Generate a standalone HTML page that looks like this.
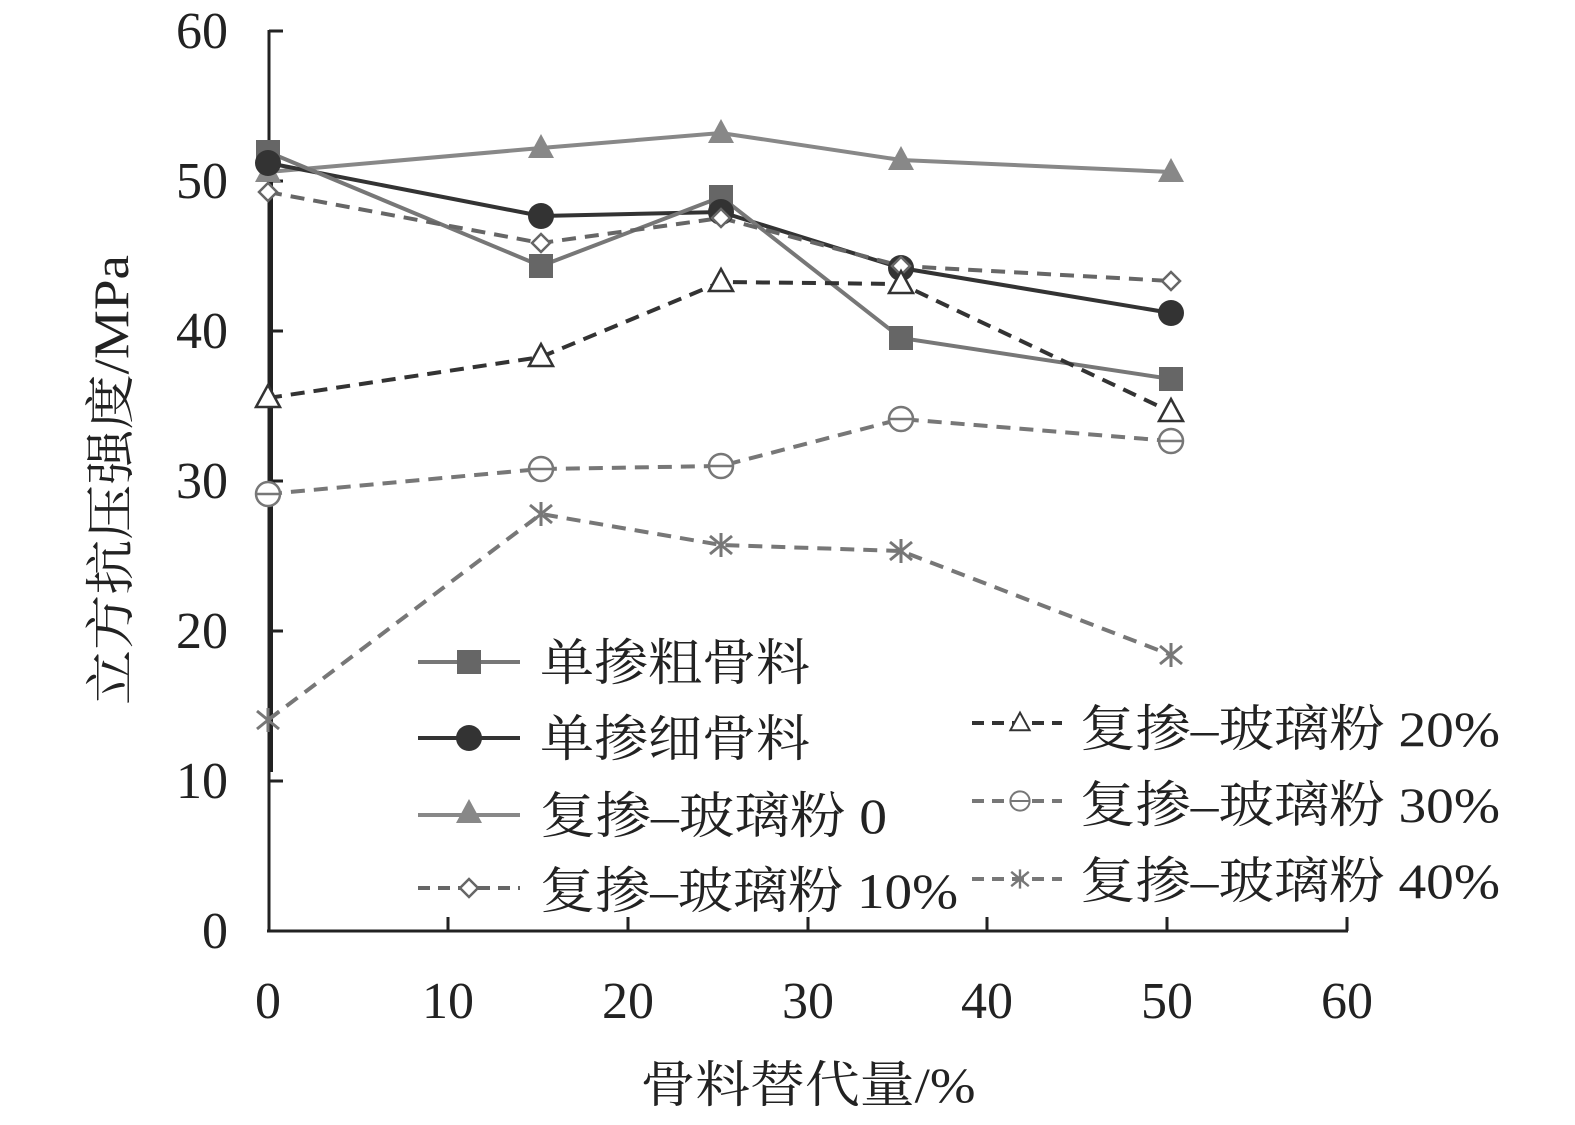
<!DOCTYPE html>
<html><head><meta charset="utf-8"><style>
html,body{margin:0;padding:0;background:#fff;}
svg{display:block;}
text{font-family:"Liberation Serif","Noto Serif CJK SC",serif;fill:#222;}
</style></head><body>
<svg width="1575" height="1125" viewBox="0 0 1575 1125" xmlns="http://www.w3.org/2000/svg">
<defs>
<g id="sq"><rect x="-12" y="-12" width="24" height="24" fill="#666"/></g>
<g id="ci"><circle r="13" fill="#333"/></g>
<g id="tf"><polygon points="0,-14 13,10 -13,10" fill="#888"/></g>
<g id="di"><polygon points="0,-9 9,0 0,9 -9,0" fill="#fff" stroke="#666" stroke-width="2.5"/></g>
<g id="to"><polygon points="0,-13 12,9 -12,9" fill="#fff" stroke="#333" stroke-width="2.5"/></g>
<g id="co"><circle r="12" fill="#fff" stroke="#777" stroke-width="2.5"/><line x1="-11" y1="0" x2="11" y2="0" stroke="#777" stroke-width="2.5"/></g>
<g id="st" stroke="#777" stroke-width="3"><line x1="-11" y1="-9" x2="11" y2="9"/><line x1="-11" y1="9" x2="11" y2="-9"/><line x1="0" y1="-12" x2="0" y2="12"/></g>
</defs>
<g stroke="#222" stroke-width="3" fill="none">
<line x1="269" y1="30" x2="269" y2="932"/>
<line x1="267" y1="931" x2="1348" y2="931"/>
<line x1="271" y1="150" x2="271" y2="772" stroke-width="4"/>
<line x1="269" y1="31" x2="283" y2="31"/>
<line x1="269" y1="181" x2="283" y2="181"/>
<line x1="269" y1="331" x2="283" y2="331"/>
<line x1="269" y1="481" x2="283" y2="481"/>
<line x1="269" y1="631" x2="283" y2="631"/>
<line x1="269" y1="781" x2="283" y2="781"/>
<line x1="448" y1="931" x2="448" y2="917"/>
<line x1="628" y1="931" x2="628" y2="917"/>
<line x1="808" y1="931" x2="808" y2="917"/>
<line x1="987" y1="931" x2="987" y2="917"/>
<line x1="1167" y1="931" x2="1167" y2="917"/>
<line x1="1347" y1="931" x2="1347" y2="917"/>
</g>
<g font-size="52" text-anchor="end">
<text x="228" y="48">60</text><text x="228" y="198">50</text><text x="228" y="348">40</text>
<text x="228" y="498">30</text><text x="228" y="648">20</text><text x="228" y="798">10</text>
<text x="228" y="948">0</text>
</g>
<g font-size="52" text-anchor="middle">
<text x="268" y="1018">0</text><text x="448" y="1018">10</text><text x="628" y="1018">20</text>
<text x="808" y="1018">30</text><text x="987" y="1018">40</text><text x="1167" y="1018">50</text>
<text x="1347" y="1018">60</text>
</g>
<text x="808" y="1102" font-size="50" text-anchor="middle" textLength="335" lengthAdjust="spacingAndGlyphs">骨料替代量/%</text>
<text transform="translate(128,480) rotate(-90)" font-size="50" text-anchor="middle" textLength="450" lengthAdjust="spacingAndGlyphs">立方抗压强度/MPa</text>
<g fill="none" stroke-width="4">
<polyline stroke="#888" points="268,172 541,148 721,133 901,160 1171,172"/>
<polyline stroke="#333" points="268,163 541,216 721,212 901,268 1171,313"/>
<polyline stroke="#777" points="268,152 541,266 721,197 901,338 1171,379"/>
<polyline stroke="#666" stroke-dasharray="14,9" points="268,192 541,243 721,218 901,266 1171,281"/>
<polyline stroke="#333" stroke-dasharray="14,9" points="268,398 541,357 721,282 901,284 1171,412"/>
<polyline stroke="#777" stroke-dasharray="14,9" points="268,494 541,469 721,466 901,419 1171,441"/>
<polyline stroke="#777" stroke-dasharray="14,9" points="268,720 541,514 721,545 901,551 1171,655"/>
</g>
<use href="#tf" x="268" y="172"/><use href="#tf" x="541" y="148"/><use href="#tf" x="721" y="133"/><use href="#tf" x="901" y="160"/><use href="#tf" x="1171" y="172"/>
<use href="#sq" x="268" y="152"/><use href="#sq" x="541" y="266"/><use href="#sq" x="721" y="197"/><use href="#sq" x="901" y="338"/><use href="#sq" x="1171" y="379"/>
<use href="#ci" x="268" y="163"/><use href="#ci" x="541" y="216"/><use href="#ci" x="721" y="212"/><use href="#ci" x="901" y="268"/><use href="#ci" x="1171" y="313"/>
<use href="#di" x="268" y="192"/><use href="#di" x="541" y="243"/><use href="#di" x="721" y="218"/><use href="#di" x="901" y="266"/><use href="#di" x="1171" y="281"/>
<use href="#to" x="268" y="398"/><use href="#to" x="541" y="357"/><use href="#to" x="721" y="282"/><use href="#to" x="901" y="284"/><use href="#to" x="1171" y="412"/>
<use href="#co" x="268" y="494"/><use href="#co" x="541" y="469"/><use href="#co" x="721" y="466"/><use href="#co" x="901" y="419"/><use href="#co" x="1171" y="441"/>
<use href="#st" x="268" y="720"/><use href="#st" x="541" y="514"/><use href="#st" x="721" y="545"/><use href="#st" x="901" y="551"/><use href="#st" x="1171" y="655"/>
<g fill="none" stroke-width="4">
<line x1="418" y1="662" x2="520" y2="662" stroke="#777"/>
<line x1="418" y1="738" x2="520" y2="738" stroke="#333"/>
<line x1="418" y1="815" x2="520" y2="815" stroke="#888"/>
<line x1="418" y1="888" x2="520" y2="888" stroke="#666" stroke-dasharray="12,8"/>
<line x1="972" y1="723" x2="1062" y2="723" stroke="#333" stroke-dasharray="12,8"/>
<line x1="972" y1="801" x2="1062" y2="801" stroke="#777" stroke-dasharray="12,8"/>
<line x1="972" y1="879" x2="1062" y2="879" stroke="#777" stroke-dasharray="12,8"/>
</g>
<use href="#sq" x="469" y="662"/><use href="#ci" x="469" y="738"/><use href="#tf" x="469" y="813"/><use href="#di" x="469" y="888"/>
<g transform="translate(1020,723) scale(0.8)"><use href="#to"/></g>
<g transform="translate(1020,801) scale(0.8)"><use href="#co"/></g>
<g transform="translate(1020,879) scale(0.8)"><use href="#st"/></g>
<g font-size="50" lengthAdjust="spacingAndGlyphs">
<text x="540" y="680" textLength="270" lengthAdjust="spacingAndGlyphs">单掺粗骨料</text>
<text x="540" y="756" textLength="270" lengthAdjust="spacingAndGlyphs">单掺细骨料</text>
<text x="540" y="833" textLength="347" lengthAdjust="spacingAndGlyphs">复掺–玻璃粉 0</text>
<text x="540" y="908" textLength="418" lengthAdjust="spacingAndGlyphs">复掺–玻璃粉 10%</text>
<text x="1080" y="746" textLength="420" lengthAdjust="spacingAndGlyphs">复掺–玻璃粉 20%</text>
<text x="1080" y="822" textLength="420" lengthAdjust="spacingAndGlyphs">复掺–玻璃粉 30%</text>
<text x="1080" y="898" textLength="420" lengthAdjust="spacingAndGlyphs">复掺–玻璃粉 40%</text>
</g>
</svg>
</body></html>
